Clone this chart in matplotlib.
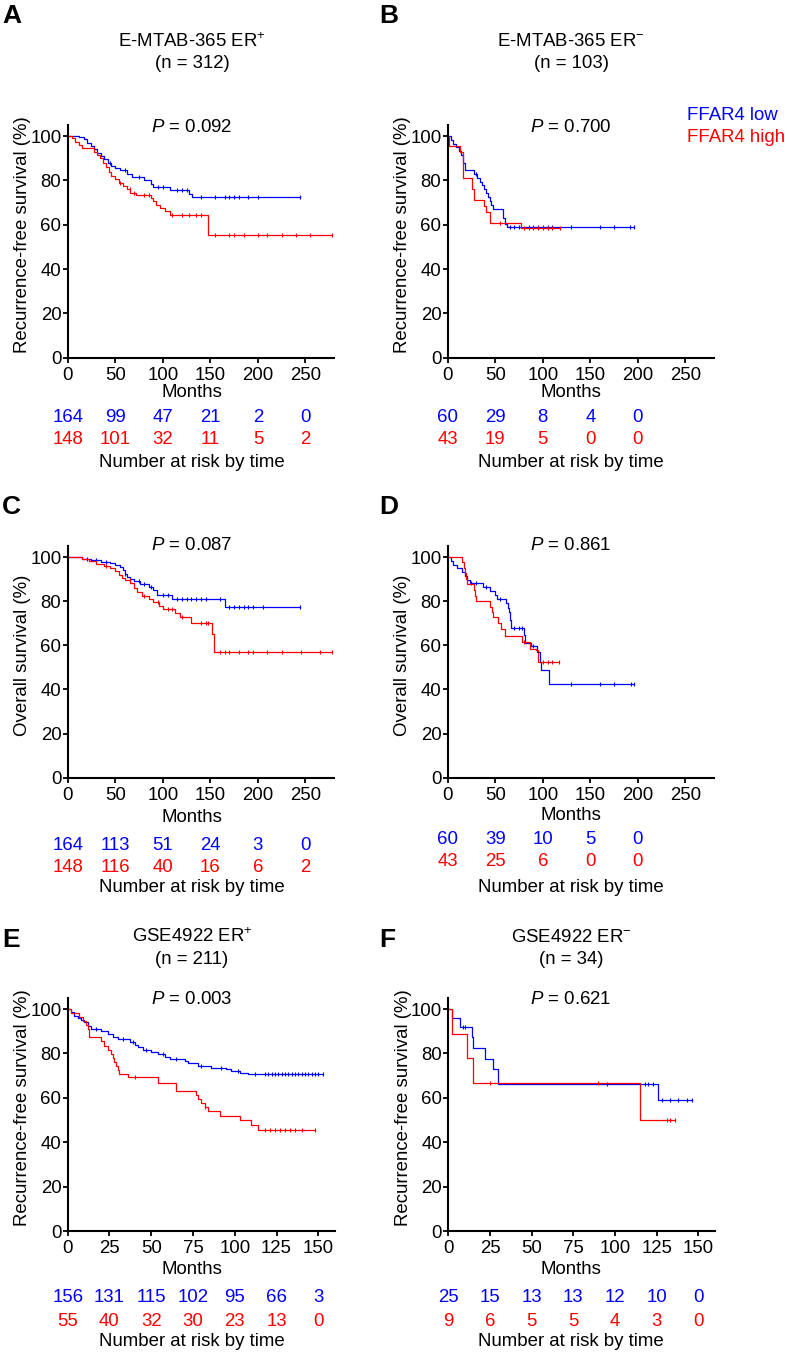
import numpy as np
import matplotlib
matplotlib.use("Agg")
import matplotlib.pyplot as plt
import matplotlib.transforms as mtransforms

plt.rcParams['font.family'] = ['Liberation Sans', 'DejaVu Sans']
plt.rcParams['mathtext.fontset'] = 'custom'
plt.rcParams['mathtext.rm'] = 'Liberation Sans'
plt.rcParams['mathtext.it'] = 'Liberation Sans:italic'

BLUE = '#0000ff'
RED = '#ff0000'
FS = 13.4

# ---- Panel A: E-MTAB-365 ER+, recurrence-free ----
a_low_t = [0, 12, 17, 20, 24, 28, 31, 35, 38, 42, 46, 50, 55, 62, 68, 80, 88, 90, 108, 128, 131, 244]
a_low_s = [100, 99.4, 98.5, 97, 95.5, 94, 92.5, 91, 89.5, 88, 86.5, 85.5, 84.5, 83, 81.5, 80, 78.5, 77, 75.5, 74, 72.5, 72.5]
a_low_cens = [45, 60, 75, 95, 100, 115, 120, 125, 140, 155, 165, 170, 175, 180, 190, 200, 244]
a_high_t = [0, 5, 8, 12, 15, 28, 31, 34, 37, 40, 43, 46, 50, 54, 58, 62, 66, 72, 88, 90, 93, 97, 102, 108, 148, 278]
a_high_s = [100, 99, 97.5, 96, 94.5, 93, 91.5, 90, 88, 86, 84, 82, 80.5, 79, 77.5, 76, 74.5, 73.5, 72, 70.5, 69, 67.5, 66, 64.5, 55.5, 55.5]
a_high_cens = [55, 65, 70, 80, 85, 110, 120, 128, 135, 140, 155, 170, 175, 185, 200, 210, 225, 240, 255, 278]
a_risk_low = [164, 99, 47, 21, 2, 0]
a_risk_high = [148, 101, 32, 11, 5, 2]

# ---- Panel B: E-MTAB-365 ER-, recurrence-free ----
b_low_t = [0, 3, 6, 9, 12, 14, 16, 18, 28, 31, 34, 36, 38, 40, 42, 44, 46, 48, 58, 60, 62, 196]
b_low_s = [100, 98.3, 96.6, 94.9, 93.2, 91.5, 88, 84.8, 83, 81.3, 79.5, 77.8, 76, 74.3, 72.5, 70.8, 69, 67.2, 63, 60.5, 59, 59]
b_low_cens = [30, 65, 70, 75, 85, 90, 95, 100, 105, 110, 130, 160, 175, 192, 196]
b_high_t = [0, 1, 13, 16, 26, 28, 38, 40, 44, 77, 118]
b_high_s = [100, 95.3, 93, 81, 76, 71, 68.5, 65.8, 61, 58.3, 58.3]
b_high_cens = [55, 80, 85, 90, 95, 100, 105, 110, 118]
b_risk_low = [60, 29, 8, 4, 0]
b_risk_high = [43, 19, 5, 0, 0]

# ---- Panel C: E-MTAB-365 ER+, overall ----
c_low_t = [0, 15, 25, 35, 45, 50, 55, 58, 60, 62, 65, 70, 76, 85, 90, 94, 110, 165, 244]
c_low_s = [100, 99.3, 98.6, 97.9, 97.2, 96.5, 95.3, 94, 92.5, 91, 90, 89, 88, 86.5, 85, 83, 81, 77.5, 77.5]
c_low_cens = [20, 30, 40, 60, 75, 80, 88, 100, 105, 115, 120, 125, 130, 135, 140, 145, 160,
              170, 175, 180, 185, 190, 195, 205, 244]
c_high_t = [0, 15, 22, 30, 38, 45, 50, 54, 57, 60, 66, 70, 73, 78, 86, 90, 96, 100, 113, 118, 130, 152, 154, 278]
c_high_s = [100, 99, 98, 97, 96, 95, 93.5, 92, 90.5, 89.5, 88.3, 86, 84, 82.5, 81, 79.5, 78, 76.5, 74.5, 73, 70, 65, 57, 57]
c_high_cens = [40, 65, 80, 95, 105, 110, 120, 140, 145, 148, 160, 165, 170, 180, 190, 195, 210, 225, 245, 265, 278]
c_risk_low = [164, 113, 51, 24, 3, 0]
c_risk_high = [148, 116, 40, 16, 6, 2]

# ---- Panel D: E-MTAB-365 ER-, overall ----
d_low_t = [0, 3, 6, 10, 15, 18, 20, 23, 37, 45, 50, 52, 61, 63, 64, 65, 66, 67, 80, 81, 88, 94, 97, 98, 106, 196]
d_low_s = [100, 98.3, 96.6, 94.9, 93.2, 91.5, 89.8, 88.3, 86.5, 84.5, 82.8, 80.8, 79, 77, 75, 73.5, 71.5, 68,
           64.5, 61.2, 59.7, 56.8, 52.3, 48.6, 42.6, 42.6]
d_low_cens = [25, 30, 40, 55, 70, 75, 78, 90, 130, 160, 175, 193, 196]
d_high_t = [0, 15, 17, 18, 19, 20, 28, 29, 30, 45, 47, 48, 53, 56, 60, 78, 87, 93, 95, 117]
d_high_s = [100, 97.6, 95, 92.7, 90, 87.7, 85, 82.5, 80.2, 77.5, 75, 72.7, 70.3, 67.5, 64.4, 61.4, 58.4, 57.7, 52.3, 52.3]
d_high_cens = [80, 100, 105, 110, 117]
d_risk_low = [60, 39, 10, 5, 0]
d_risk_high = [43, 25, 6, 0, 0]

# ---- Panel E: GSE4922 ER+, recurrence-free ----
e_low_t = [0, 2, 4, 6, 8, 10, 12, 14, 20, 24, 27, 30, 37, 40, 42, 45, 50, 54, 58, 61, 70, 72, 78, 86, 95, 98,
           103, 108, 153]
e_low_s = [100, 98.5, 97, 96, 95, 94, 92.5, 91, 90.2, 89, 87.5, 86.3, 85, 84, 83, 81.5, 80.5, 79.6, 78.5, 77.4,
           76.5, 75.9, 74.5, 73.6, 72.8, 72, 71.4, 70.6, 70.6]
e_low_cens = [17, 33, 39, 47, 57, 65, 80, 92, 102, 112, 118, 120, 122, 124, 126, 128, 130, 132, 134, 136, 138,
              140, 142, 144, 146, 148, 150, 153]
e_high_t = [0, 2, 7, 9, 11, 12, 13, 20, 22, 24, 26, 27, 28, 29, 30, 31, 36, 54, 65, 77, 78, 80, 82, 84, 91, 103,
            110, 114, 148]
e_high_s = [100, 98.2, 96.4, 94.6, 92.8, 91, 87.2, 85.4, 83.5, 81.7, 79.9, 78, 76.2, 74.4, 72.6, 70.8, 69.4,
            66.9, 63.3, 61.4, 59.6, 57.8, 56, 54.2, 51.7, 49.8, 47.6, 45.3, 45.3]
e_high_cens = [40, 82, 118, 121, 124, 127, 130, 133, 136, 140, 148]
e_risk_low = [156, 131, 115, 102, 95, 66, 3]
e_risk_high = [55, 40, 32, 30, 23, 13, 0]

# ---- Panel F: GSE4922 ER-, recurrence-free ----
f_low_t = [0, 2, 7, 14, 15, 22, 27, 30, 126, 146]
f_low_s = [100, 96, 92, 87.4, 82.6, 77.7, 72.9, 66.3, 58.9, 58.9]
f_low_cens = [9, 10, 95, 118, 120, 123, 128, 133, 138, 143, 146]
f_high_t = [0, 2, 11, 15, 115, 136]
f_high_s = [100, 88.9, 77.8, 66.7, 50, 50]
f_high_cens = [25, 90, 131, 133, 136]
f_risk_low = [25, 15, 13, 13, 12, 10, 0]
f_risk_high = [9, 6, 5, 5, 4, 3, 0]

ticks_long = [0, 50, 100, 150, 200, 250]
ticks_short = [0, 25, 50, 75, 100, 125, 150]

W, H = 787, 1353
fig = plt.figure(figsize=(W / 100, H / 100), dpi=100)


def px(x, y):
    # pixel position -> figure fraction
    return x / W, 1 - y / H


def km(ax, t, s, cens, color):
    ax.step(t, s, where='post', color=color, lw=0.9)
    t = np.asarray(t)
    s = np.asarray(s)
    idx = np.searchsorted(t, cens, side='right') - 1
    ax.plot(cens, s[idx], ls='none', marker='|', ms=3, mew=0.8, color=color)


def panel(box, xmax, xticks, low, high, risk, ylabel, title, pval, ys):
    left, top, right, bottom = box
    x0, y0 = px(left, bottom)
    x1, y1 = px(right, top)
    ax = fig.add_axes([x0, y0, x1 - x0, y1 - y0])
    km(ax, *low, BLUE)
    km(ax, *high, RED)
    ax.set_xlim(0, xmax)
    ax.set_ylim(0, 105)
    ax.set_xticks(xticks)
    ax.set_yticks([0, 20, 40, 60, 80, 100])
    for sp in ['top', 'right']:
        ax.spines[sp].set_visible(False)
    for sp in ['left', 'bottom']:
        ax.spines[sp].set_linewidth(1.5)
    ax.tick_params(direction='out', length=3.5, width=1.3, labelsize=FS, pad=1)
    ax.tick_params(axis='x', pad=3)
    ax.set_ylabel(ylabel, fontsize=FS)
    ax.yaxis.set_label_coords(-0.137, 0.53)

    cx = ys['cx']
    if title:
        fig.text(*px(cx, ys['t1']), title[0], ha='center', va='center', fontsize=FS)
        fig.text(*px(cx, ys['t2']), title[1], ha='center', va='center', fontsize=FS)
    fig.text(*px(cx, ys['p']), pval, ha='center', va='center', fontsize=FS)
    fig.text(*px(cx, ys['months']), 'Months', ha='center', va='center', fontsize=FS)
    tr = mtransforms.blended_transform_factory(ax.transData, fig.transFigure)
    for xt, n in zip(xticks, risk[0]):
        ax.text(xt, 1 - ys['r1'] / H, str(n), transform=tr, ha='center', va='center',
                fontsize=FS, color=BLUE, clip_on=False)
    for xt, n in zip(xticks, risk[1]):
        ax.text(xt, 1 - ys['r2'] / H, str(n), transform=tr, ha='center', va='center',
                fontsize=FS, color=RED, clip_on=False)
    fig.text(*px(cx, ys['nr']), 'Number at risk by time', ha='center', va='center', fontsize=FS)
    return ax


rfs = 'Recurrence-free survival (%)'
os_lab = 'Overall survival (%)'

panel((67.7, 125, 334, 357.7), 280, ticks_long,
      (a_low_t, a_low_s, a_low_cens), (a_high_t, a_high_s, a_high_cens),
      (a_risk_low, a_risk_high), rfs,
      ('E-MTAB-365 ER$^{+}$', '(n = 312)'), '$P$ = 0.092',
      dict(cx=192, t1=42, t2=63, p=127, months=392, r1=417, r2=439, nr=462))

panel((447.7, 125, 714, 357.7), 280, ticks_long[:5],
      (b_low_t, b_low_s, b_low_cens), (b_high_t, b_high_s, b_high_cens),
      (b_risk_low, b_risk_high), rfs,
      ('E-MTAB-365 ER$^{-}$', '(n = 103)'), '$P$ = 0.700',
      dict(cx=571, t1=42, t2=63, p=127, months=392, r1=417, r2=439, nr=462))
fig.axes[-1].set_xticks(ticks_long)

panel((67.7, 546, 334, 777.7), 280, ticks_long,
      (c_low_t, c_low_s, c_low_cens), (c_high_t, c_high_s, c_high_cens),
      (c_risk_low, c_risk_high), os_lab, None, '$P$ = 0.087',
      dict(cx=192, p=545, months=817, r1=845, r2=868, nr=887))

panel((447.7, 546, 714, 777.7), 280, ticks_long[:5],
      (d_low_t, d_low_s, d_low_cens), (d_high_t, d_high_s, d_high_cens),
      (d_risk_low, d_risk_high), os_lab, None, '$P$ = 0.861',
      dict(cx=571, p=545, months=815, r1=839, r2=862, nr=887))
fig.axes[-1].set_xticks(ticks_long)

panel((67.7, 998, 335, 1231), 160, ticks_short,
      (e_low_t, e_low_s, e_low_cens), (e_high_t, e_high_s, e_high_cens),
      (e_risk_low, e_risk_high), rfs,
      ('GSE4922 ER$^{+}$', '(n = 211)'), '$P$ = 0.003',
      dict(cx=192, t1=937, t2=959, p=1000, months=1270, r1=1298, r2=1322, nr=1342))

panel((448.3, 998, 715, 1231), 160, ticks_short,
      (f_low_t, f_low_s, f_low_cens), (f_high_t, f_high_s, f_high_cens),
      (f_risk_low, f_risk_high), rfs,
      ('GSE4922 ER$^{-}$', '(n = 34)'), '$P$ = 0.621',
      dict(cx=571, t1=937, t2=959, p=1000, months=1270, r1=1298, r2=1322, nr=1342))

# legend text in panel B
fig.text(*px(687, 115), 'FFAR4 low', ha='left', va='center', fontsize=FS, color=BLUE)
fig.text(*px(687, 137), 'FFAR4 high', ha='left', va='center', fontsize=FS, color=RED)

# panel letters
for letter, (x, y) in zip('ABCDEF', [(2, 16), (379, 16), (2, 507), (379, 507), (2, 940), (379, 940)]):
    fig.text(*px(x, y), letter, ha='left', va='center', fontsize=19, fontweight='bold')

fig.savefig('out.png', dpi=100)
